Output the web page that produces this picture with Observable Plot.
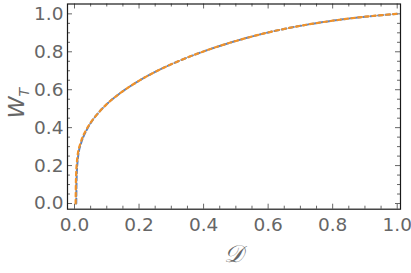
<!DOCTYPE html>
<html>
<head>
<meta charset="utf-8">
<script src="https://cdn.jsdelivr.net/npm/d3@7"></script>
<script src="https://cdn.jsdelivr.net/npm/@observablehq/plot@0.6"></script>
<style>
  html, body { margin: 0; padding: 0; background: #fff; }
  svg { display: block; }
</style>
</head>
<body>
<div id="chart"></div>
<script>
// Series 1 (blue, dashed)
const dBlue = [0.0055, 0.006, 0.0072, 0.0095, 0.013, 0.019, 0.027, 0.037, 0.050, 0.070, 0.100, 0.140, 0.190, 0.250, 0.320, 0.400, 0.500, 0.600, 0.700, 0.800, 0.900, 1.000];
const wBlue = [0.000, 0.080, 0.160, 0.220, 0.270, 0.310, 0.350, 0.385, 0.424, 0.470, 0.524, 0.580, 0.637, 0.694, 0.749, 0.802, 0.857, 0.902, 0.937, 0.964, 0.985, 1.000];
// Series 2 (orange, dotted)
const dOrange = [0.0035, 0.004, 0.0052, 0.0075, 0.011, 0.017, 0.025, 0.035, 0.049, 0.070, 0.100, 0.140, 0.190, 0.250, 0.320, 0.400, 0.500, 0.600, 0.700, 0.800, 0.900, 1.000];
const wOrange = [0.000, 0.080, 0.160, 0.220, 0.270, 0.310, 0.350, 0.385, 0.424, 0.470, 0.524, 0.580, 0.637, 0.694, 0.749, 0.802, 0.857, 0.902, 0.937, 0.964, 0.985, 1.000];

const xTicks = [0, 0.2, 0.4, 0.6, 0.8, 1.0];
const yTicks = [0, 0.2, 0.4, 0.6, 0.8, 1.0];
const xMinor = [0.05, 0.1, 0.15, 0.25, 0.3, 0.35, 0.45, 0.5, 0.55, 0.65, 0.7, 0.75, 0.85, 0.9, 0.95];
const yMinor = [0.05, 0.1, 0.15, 0.25, 0.3, 0.35, 0.45, 0.5, 0.55, 0.65, 0.7, 0.75, 0.85, 0.9, 0.95];

const blue = dBlue.map((d, i) => ({D: d, W: wBlue[i]}));
const orange = dOrange.map((d, i) => ({D: d, W: wOrange[i]}));

const W = 411, H = 273;
const mL = 67, mR = 11, mT = 3.5, mB = 64.3;
const innerH = H - mT - mB, innerW = W - mL - mR;
const majorLen = 5, minorLen = 3;
const tickColor = "#666";
const labelColor = "#666";
const font = "DejaVu Sans, sans-serif";

const plot = Plot.plot({
  width: W, height: H,
  marginLeft: mL, marginRight: mR, marginTop: mT, marginBottom: mB,
  style: {fontFamily: font, background: "white"},
  x: {domain: [-0.0217, 1.0102]},
  y: {domain: [-0.030, 1.052]},
  marks: [
    // inward ticks: bottom / top
    Plot.ruleX(xTicks, {x: d => d, insetTop: innerH - majorLen, stroke: tickColor}),
    Plot.ruleX(xTicks, {x: d => d, insetBottom: innerH - majorLen, stroke: tickColor}),
    Plot.ruleX(xMinor, {x: d => d, insetTop: innerH - minorLen, stroke: tickColor}),
    Plot.ruleX(xMinor, {x: d => d, insetBottom: innerH - minorLen, stroke: tickColor}),
    // inward ticks: left / right
    Plot.ruleY(yTicks, {y: d => d, insetRight: innerW - majorLen, stroke: tickColor}),
    Plot.ruleY(yTicks, {y: d => d, insetLeft: innerW - majorLen, stroke: tickColor}),
    Plot.ruleY(yMinor, {y: d => d, insetRight: innerW - minorLen, stroke: tickColor}),
    Plot.ruleY(yMinor, {y: d => d, insetLeft: innerW - minorLen, stroke: tickColor}),
    Plot.frame({stroke: "#1a1a1a", strokeWidth: 1.2}),
    Plot.axisX({ticks: xTicks, tickSize: 0, tickPadding: 9, tickFormat: d3.format(".1f"), fontSize: 18.5, color: labelColor, label: null}),
    Plot.axisY({ticks: yTicks, tickSize: 0, tickPadding: 4, tickFormat: d3.format(".1f"), fontSize: 18.5, color: labelColor, label: null}),
    Plot.line(blue, {x: "D", y: "W", stroke: "#5B82C0", strokeWidth: 2, strokeDasharray: "5,2.5", curve: "monotone-x"}),
    Plot.line(orange, {x: "D", y: "W", stroke: "#F0922A", strokeWidth: 2.2, strokeDasharray: "3.5,3.5", curve: "monotone-x"}),
    Plot.text(["𝒟"], {frameAnchor: "bottom", dx: -1, dy: 53, text: d => d, fontSize: 24, fill: labelColor, fontStyle: "italic"})
  ]
});

// y-axis title W_T
const svg = d3.select(plot);
const t = svg.append("text")
  .attr("transform", `translate(24, ${mT + innerH / 2 - 3}) rotate(-90)`)
  .attr("text-anchor", "middle")
  .attr("fill", labelColor)
  .attr("font-family", font)
  .attr("font-size", 22);
t.append("tspan").attr("font-style", "italic").text("W");
t.append("tspan").attr("font-style", "italic").attr("font-size", 14).attr("dy", 5).text("T");

document.getElementById("chart").appendChild(plot);
</script>
</body>
</html>
